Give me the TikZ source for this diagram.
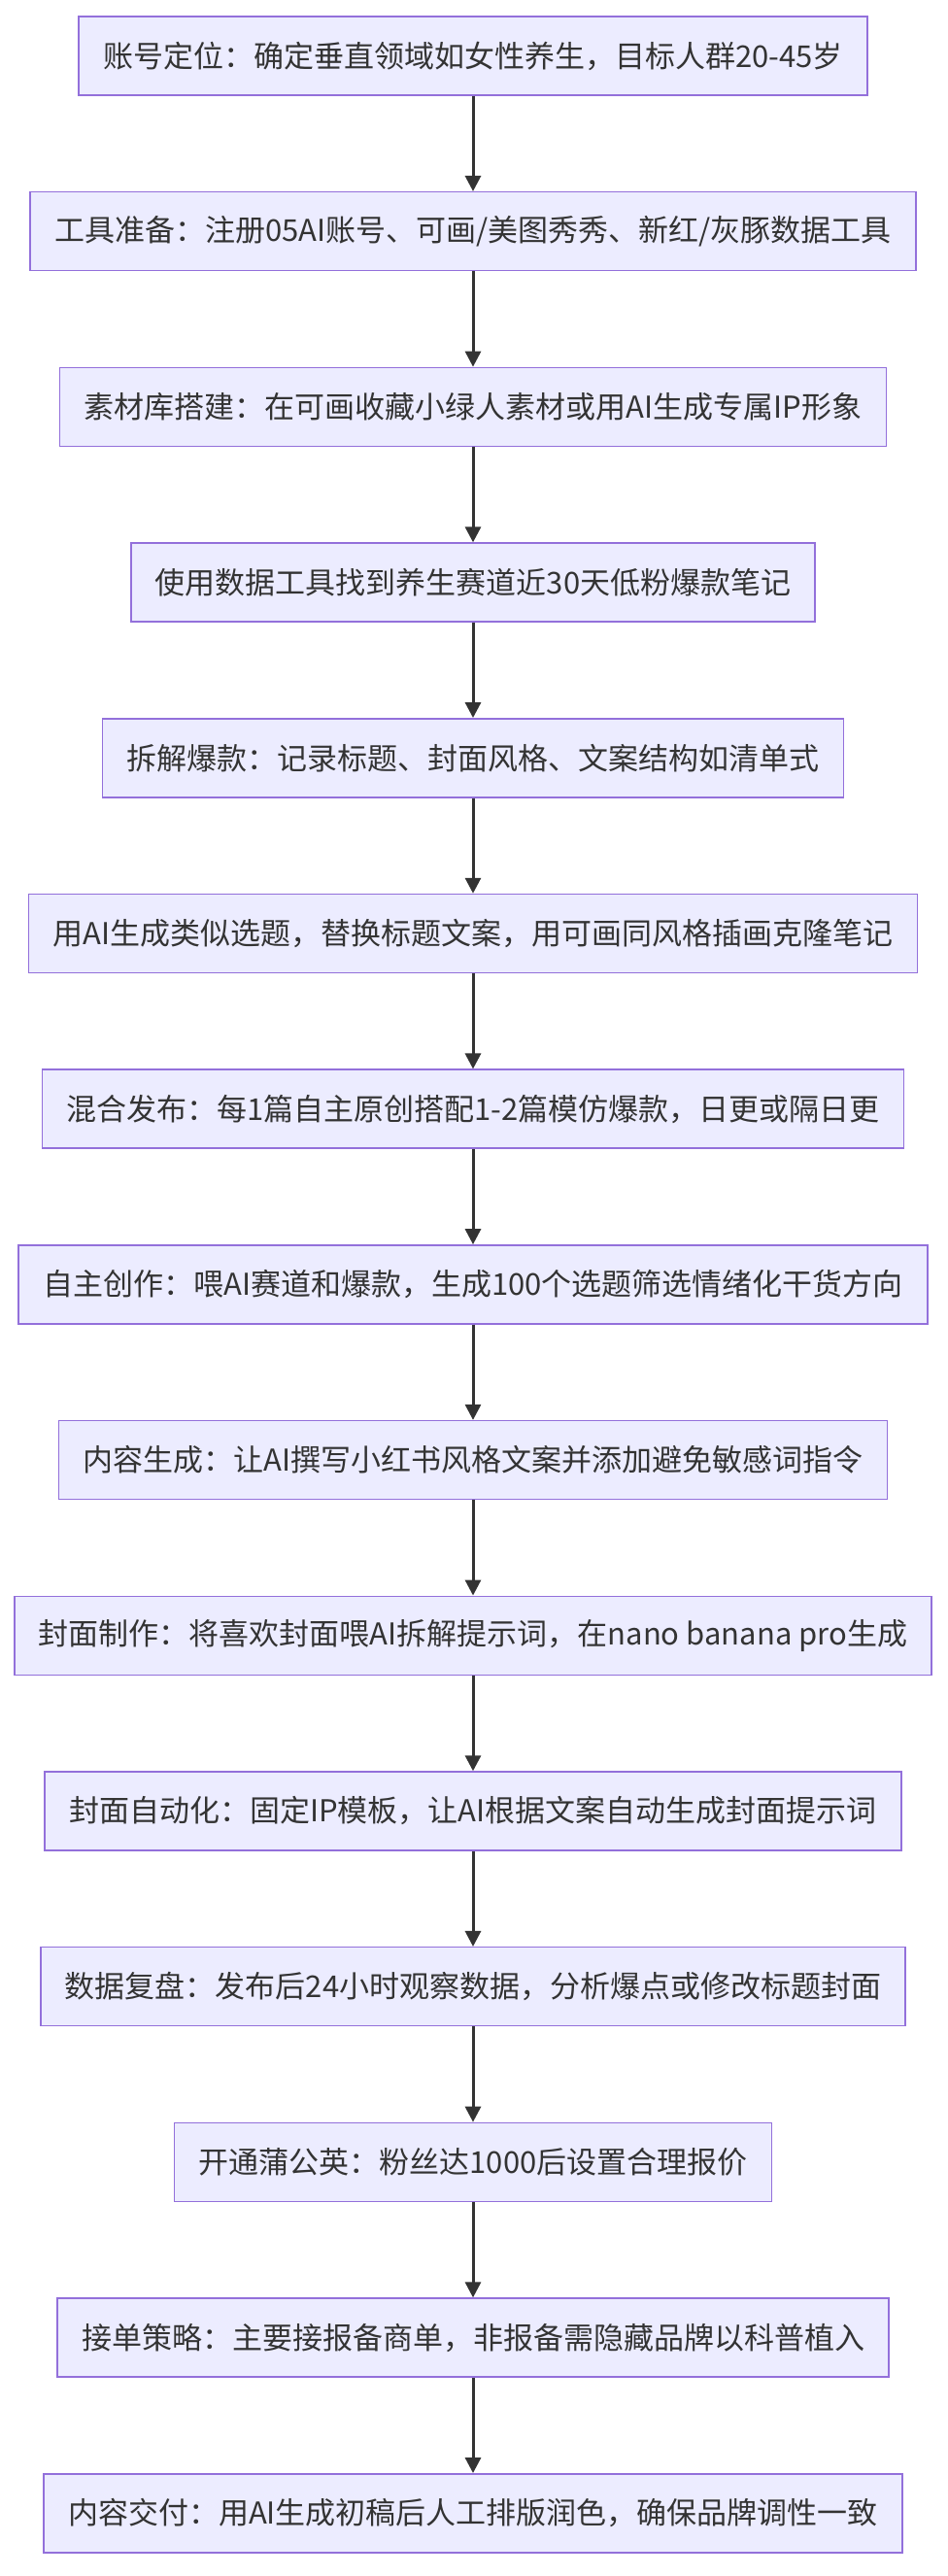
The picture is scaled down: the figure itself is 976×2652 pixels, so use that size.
\documentclass[tikz,border=0pt]{standalone}
\usepackage{fontspec}
\setmainfont{Noto Sans CJK SC}
\usetikzlibrary{arrows.meta}
\definecolor{boxfill}{HTML}{ECECFF}
\definecolor{boxline}{HTML}{9370DB}
\definecolor{arr}{HTML}{333333}
\begin{document}
\begin{tikzpicture}[x=1pt,y=-1pt,
  fbox/.style={draw=boxline,fill=boxfill,line width=1.5pt,minimum height=81pt,inner xsep=25pt,font=\fontsize{31}{36}\selectfont,text=arr},
  flow/.style={draw=arr,line width=3pt,-{Triangle[length=16pt,width=16pt]}}]
\useasboundingbox (0,0) rectangle (976,2652);
\foreach \i/\t in {1/{账号定位：确定垂直领域如女性养生，目标人群20-45岁},
2/{工具准备：注册05AI账号、可画/美图秀秀、新红/灰豚数据工具},
3/{素材库搭建：在可画收藏小绿人素材或用AI生成专属IP形象},
4/{使用数据工具找到养生赛道近30天低粉爆款笔记},
5/{拆解爆款：记录标题、封面风格、文案结构如清单式},
6/{用AI生成类似选题，替换标题文案，用可画同风格插画克隆笔记},
7/{混合发布：每1篇自主原创搭配1-2篇模仿爆款，日更或隔日更},
8/{自主创作：喂AI赛道和爆款，生成100个选题筛选情绪化干货方向},
9/{内容生成：让AI撰写小红书风格文案并添加避免敏感词指令},
10/{封面制作：将喜欢封面喂AI拆解提示词，在nano banana pro生成},
11/{封面自动化：固定IP模板，让AI根据文案自动生成封面提示词},
12/{数据复盘：发布后24小时观察数据，分析爆点或修改标题封面},
13/{开通蒲公英：粉丝达1000后设置合理报价},
14/{接单策略：主要接报备商单，非报备需隐藏品牌以科普植入},
15/{内容交付：用AI生成初稿后人工排版润色，确保品牌调性一致}}
{\node[fbox] (n\i) at (487,{57.5+(\i-1)*180.7}) {\t};}
\foreach \i [evaluate=\i as \j using int(\i+1)] in {1,...,14}
{\draw[flow] (n\i) -- (n\j);}
\end{tikzpicture}
\end{document}
